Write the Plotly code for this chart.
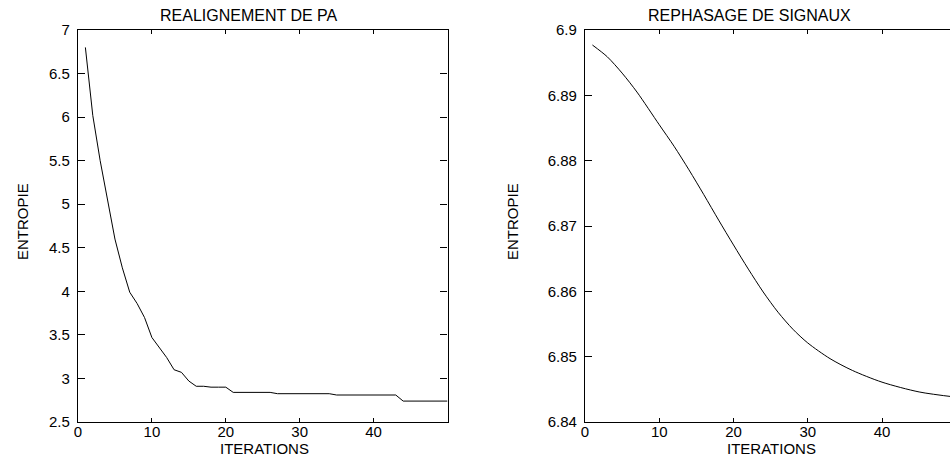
import plotly.graph_objects as go

# ---------------- data ----------------
iter_pa = list(range(1, 51))
entropy_pa = [6.80, 6.02, 5.50, 5.05, 4.60, 4.27, 3.99, 3.86, 3.70, 3.47,
              3.35, 3.24, 3.10, 3.07, 2.97, 2.91, 2.91, 2.90, 2.90, 2.90,
              2.84, 2.84, 2.84, 2.84, 2.84, 2.84, 2.825, 2.825, 2.825, 2.825,
              2.825, 2.825, 2.825, 2.825, 2.81, 2.81, 2.81, 2.81, 2.81, 2.81,
              2.81, 2.81, 2.81, 2.74, 2.74, 2.74, 2.74, 2.74, 2.74, 2.74]

iter_sig = [1, 3, 5, 7, 10, 12, 14, 16, 18, 20, 22, 24, 26, 28, 30, 33, 36, 40, 45, 50]
entropy_sig = [6.8977, 6.8959, 6.8934, 6.8905, 6.8855, 6.8822, 6.8786, 6.8748,
               6.8709, 6.8671, 6.8634, 6.8599, 6.8568, 6.8542, 6.8521, 6.8497,
               6.8479, 6.8461, 6.8446, 6.8438]

x_ticks = [0, 10, 20, 30, 40]
y1_ticks = [2.5, 3, 3.5, 4, 4.5, 5, 5.5, 6, 6.5, 7]
y1_ticktext = ["2.5", "3", "3.5", "4", "4.5", "5", "5.5", "6", "6.5", "7"]
y2_ticks = [6.84, 6.85, 6.86, 6.87, 6.88, 6.89, 6.90]
y2_ticktext = ["6.84", "6.85", "6.86", "6.87", "6.88", "6.89", "6.9"]

titles = ["REALIGNEMENT DE PA", "REPHASAGE DE SIGNAUX"]
x_title = "ITERATIONS"
y_title = "ENTROPIE"

# ---------------- figure ----------------
FONT = "Liberation Sans, Arial, Helvetica, sans-serif"
W, H = 950, 458
ML, MR, MT, MB = 78, 0, 30, 36
PW, PH = W - ML - MR, H - MT - MB


def px(x):  # screen x -> paper
    return (x - ML) / PW


def py(y):  # screen y -> paper
    return (H - MB - y) / PH


fig = go.Figure()
fig.add_trace(go.Scatter(x=iter_pa, y=entropy_pa, mode="lines",
                         line=dict(color="black", width=1),
                         xaxis="x", yaxis="y", showlegend=False))
fig.add_trace(go.Scatter(x=iter_sig, y=entropy_sig, mode="lines",
                         line=dict(color="black", width=1, shape="spline",
                                   smoothing=0.8),
                         xaxis="x2", yaxis="y2", showlegend=False))

axis_common = dict(showgrid=False, zeroline=False, showline=True,
                   linecolor="black", linewidth=1.2, ticks="inside",
                   tickcolor="black", tickwidth=1)
yfont = dict(family=FONT, size=15, color="black")
xfont = dict(family=FONT, size=15, color="black")

fig.update_layout(
    width=W, height=H,
    margin=dict(l=ML, r=MR, t=MT, b=MB, pad=0),
    paper_bgcolor="white", plot_bgcolor="white",
    xaxis=dict(domain=[0, px(447.5)], range=[0, 50], tickvals=x_ticks,
               anchor="y", mirror="ticks", ticklen=4, tickfont=xfont,
               ticklabelstandoff=-4, **axis_common),
    yaxis=dict(domain=[0, 1], range=[2.5, 7], tickvals=y1_ticks,
               ticktext=y1_ticktext, anchor="x", mirror="ticks", ticklen=7,
               ticklabelstandoff=4, tickfont=yfont, **axis_common),
    xaxis2=dict(domain=[px(585), 1], range=[0, (950 - 585.1) / 7.423],
                tickvals=x_ticks, anchor="y2", mirror="ticks", ticklen=4,
                tickfont=xfont, ticklabelstandoff=-4, **axis_common),
    yaxis2=dict(domain=[0, 1], range=[6.84, 6.90], tickvals=y2_ticks,
                ticktext=y2_ticktext, anchor="x2", ticklen=7,
                ticklabelstandoff=4, tickfont=yfont, **axis_common),
    yaxis3=dict(overlaying="y2", anchor="x2", side="right", range=[6.84, 6.90],
                tickvals=y2_ticks, showticklabels=False, showline=False,
                showgrid=False, zeroline=False, ticks="inside", ticklen=2,
                tickcolor="black", tickwidth=1),
)

annotations = [
    dict(text=titles[0], x=px(249), y=py(15), font=dict(family=FONT, size=16, color="black")),
    dict(text=titles[1], x=px(749), y=py(15), font=dict(family=FONT, size=16, color="black")),
    dict(text=x_title, x=px(264), y=py(448.5), font=dict(family=FONT, size=15, color="black")),
    dict(text=x_title, x=px(771.7), y=py(448.5), font=dict(family=FONT, size=15, color="black")),
    dict(text=y_title, x=px(22), y=py(222), textangle=-90, font=dict(family=FONT, size=15, color="black")),
    dict(text=y_title, x=px(512), y=py(222), textangle=-90, font=dict(family=FONT, size=15, color="black")),
]
for a in annotations:
    fig.add_annotation(xref="paper", yref="paper", showarrow=False,
                       xanchor="center", yanchor="middle", **a)

fig.write_html("out.html", config={"displayModeBar": False},
               post_script="document.body.style.margin='0';document.body.style.overflow='hidden';")
